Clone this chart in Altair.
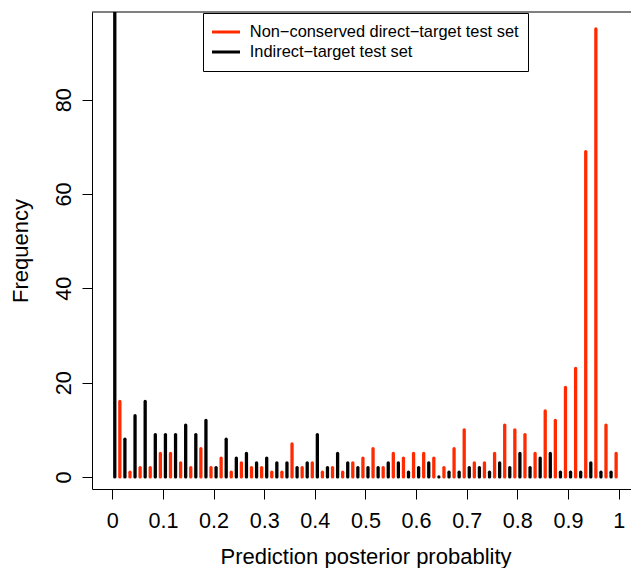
import altair as alt
import pandas as pd

# Histogram bins of width 0.02 on [0, 1]
bin_lefts = [round(0.02 * i, 2) for i in range(50)]

red_label = "Non\u2212conserved direct\u2212target test set"
black_label = "Indirect\u2212target test set"

red_counts = [16, 1, 2, 2, 5, 5, 3, 2, 6, 2,
              4, 1, 3, 2, 2, 1, 1, 7, 2, 3,
              1, 2, 1, 3, 4, 6, 2, 5, 4, 5,
              5, 4, 2, 6, 10, 3, 3, 5, 11, 10,
              9, 5, 14, 12, 19, 23, 69, 95, 11, 5]
black_counts = [140, 8, 13, 16, 9, 9, 9, 11, 9, 12,
                2, 8, 4, 5, 3, 4, 3, 3, 2, 3,
                9, 2, 5, 3, 2, 2, 2, 3, 3, 1,
                2, 3, 0, 1, 1, 2, 2, 1, 3, 2,
                5, 2, 4, 5, 1, 1, 1, 3, 1, 1]

x_ticks = [0, 0.1, 0.2, 0.3, 0.4, 0.5, 0.6, 0.7, 0.8, 0.9, 1]
y_ticks = [0, 20, 40, 60, 80]

rows = []
for b, r, k in zip(bin_lefts, red_counts, black_counts):
    rows.append({"x": b + 0.005, "count": k, "series": black_label})
    rows.append({"x": b + 0.015, "count": r, "series": red_label})
df = pd.DataFrame(rows)

W, H = 539, 477
FONT = "Liberation Sans"

bars = alt.Chart(df).mark_rule(strokeWidth=3.3, strokeCap="round", clip=True).encode(
    x=alt.X("x:Q",
            scale=alt.Scale(domain=[-0.04, -0.04 + W / 506.4], nice=False, zero=False),
            axis=alt.Axis(values=x_ticks, format="~g", title="Prediction posterior probablity",
                          tickSize=10, labelPadding=11, labelFontSize=21.6, labelFont=FONT,
                          labelColor="black", tickColor="black", domainColor="black",
                          grid=False, labelFlush=False, labelBaseline="top",
                          titleFontSize=22, titleFont=FONT, titleFontWeight="normal",
                          titleColor="black", titleX=273.5, titleY=74.3,
                          titleAlign="center", titleBaseline="alphabetic")),
    y=alt.Y("count:Q",
            scale=alt.Scale(domain=[-2.55, 98.6], nice=False, zero=False),
            axis=alt.Axis(values=y_ticks, title="Frequency",
                          tickSize=10, labelPadding=12, labelFontSize=21.6, labelFont=FONT,
                          labelColor="black", tickColor="black", domainColor="black",
                          grid=False, labelAngle=270, labelAlign="center",
                          labelBaseline="alphabetic", labelFlush=False,
                          titleFontSize=22, titleFont=FONT, titleFontWeight="normal",
                          titleColor="black", titleAngle=270, titleX=-64.5, titleY=238.5,
                          titleAlign="center", titleBaseline="alphabetic")),
    y2=alt.datum(0),
    color=alt.Color("series:N",
                    scale=alt.Scale(domain=[red_label, black_label], range=["#FF2A00", "black"]),
                    legend=alt.Legend(title=None, orient="none", legendX=111, legendY=1,
                                      symbolType="stroke", symbolSize=1024, symbolStrokeWidth=3,
                                      clipHeight=20, rowPadding=0, padding=9,
                                      symbolOffset=-5.5, labelOffset=8.3,
                                      labelFontSize=16.4, labelFont=FONT, labelColor="black",
                                      strokeColor="black", fillColor="white",
                                      labelLimit=400)),
)

top_border = alt.Chart(alt.Data(values=[{}])).mark_rule(color="black", strokeWidth=1).encode(
    x=alt.value(0), x2=alt.value(W), y=alt.value(0)
)

chart = alt.layer(bars, top_border).properties(
    width=W, height=H,
    padding={"left": 92, "top": 12, "right": 0, "bottom": 79},
    autosize="none",
    background="white",
).configure_view(stroke=None)

chart.save("out.html", embed_options={"renderer": "svg", "actions": False})
